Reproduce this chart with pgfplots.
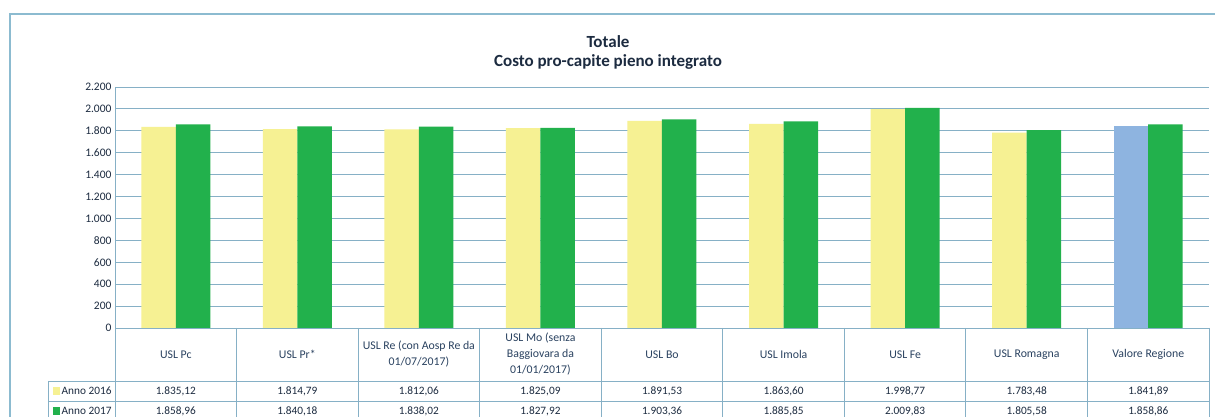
\documentclass[border=0pt]{standalone}
\usepackage{pgfplots}
\pgfplotsset{compat=1.18}
\usepackage{fontspec}
\setmainfont{Carlito}
\definecolor{cy}{HTML}{F6F193}
\definecolor{cg}{HTML}{22B14C}
\definecolor{cb}{HTML}{8EB4E0}
\definecolor{gridc}{HTML}{86B0C6}
\definecolor{framec}{HTML}{8CBBD0}
\definecolor{txt}{HTML}{1C2B40}
\definecolor{htxt}{HTML}{2A4260}
\begin{document}
\begin{tikzpicture}[x=1pt,y=1pt]
\clip (0,0) rectangle (1215,417);
\fill[white] (0,0) rectangle (1215,417);
\draw[framec, line width=1.2pt] (10,-10) -- (10,403) -- (1230,403);
\node[font=\bfseries\fontsize{17}{20}\selectfont, text=txt, align=center] at (608,375.5) {Totale};
\node[font=\bfseries\fontsize{17}{20}\selectfont, text=txt, align=center] at (608,355.5) {Costo pro-capite pieno integrato};
\begin{axis}[at={(115pt,89pt)}, anchor=south west, scale only axis,
  width=1094pt, height=241pt,
  xmin=-0.5, xmax=8.5, ymin=0, ymax=2200,
  ytick={0,200,...,2200}, xtick=\empty,
  ymajorgrids, grid style={gridc, line width=0.9pt},
  axis line style={draw=none}, major tick length=0pt,
  yticklabel style={font=\fontsize{11.5}{13}\selectfont, text=txt},
  /pgf/number format/.cd, use comma, 1000 sep={.}, assume math mode=true]
\addplot[ybar, bar width=34.5pt, bar shift=-17.25pt, fill=cy, draw=none] coordinates {
 (0,1835.12) (1,1814.79) (2,1812.06) (3,1825.09) (4,1891.53) (5,1863.60) (6,1998.77) (7,1783.48)};
\addplot[ybar, bar width=34.5pt, bar shift=-17.25pt, fill=cb, draw=none] coordinates {(8,1841.89)};
\addplot[ybar, bar width=34.5pt, bar shift=17.25pt, fill=cg, draw=none] coordinates {
 (0,1858.96) (1,1840.18) (2,1838.02) (3,1827.92) (4,1903.36) (5,1885.85) (6,2009.83) (7,1805.58) (8,1858.86)};
\end{axis}
% table grid
\draw[gridc, line width=0.9pt] (115,330) -- (115,-10);
\foreach \i in {1,...,9} {
  \pgfmathsetmacro{\xx}{115+121.56*\i}
  \draw[gridc, line width=0.9pt] (\xx,89) -- (\xx,-10);
}
\draw[gridc, line width=0.9pt] (115,89) -- (1209.04,89);
\draw[gridc, line width=0.9pt] (48,36) -- (1209.04,36);
\draw[gridc, line width=0.9pt] (48,16) -- (1209.04,16);
\draw[gridc, line width=0.9pt] (48,-3) -- (1209.04,-3);
\draw[gridc, line width=0.9pt] (48,36) -- (48,-10);
% headers
\foreach \lab [count=\i from 0] in {{USL Pc},{USL Pr*},{USL Re (con Aosp Re da\\01/07/2017)},{USL Mo (senza\\Baggiovara da\\01/01/2017)},{USL Bo},{USL Imola},{USL Fe},{USL Romagna},{Valore Regione}} {
  \pgfmathsetmacro{\xx}{115+121.56*(\i+0.5)}
  \node[font=\fontsize{11.8}{16}\selectfont, text=htxt, align=center] at (\xx,62.5) {\lab};
}
\foreach \v [count=\i from 0] in {1.835{,}12,1.814{,}79,1.812{,}06,1.825{,}09,1.891{,}53,1.863{,}60,1.998{,}77,1.783{,}48,1.841{,}89} {
  \pgfmathsetmacro{\xx}{115+121.56*(\i+0.5)}
  \node[font=\fontsize{11.3}{13}\selectfont, text=txt] at (\xx,26) {\v};
}
\foreach \v [count=\i from 0] in {1.858{,}96,1.840{,}18,1.838{,}02,1.827{,}92,1.903{,}36,1.885{,}85,2.009{,}83,1.805{,}58,1.858{,}86} {
  \pgfmathsetmacro{\xx}{115+121.56*(\i+0.5)}
  \node[font=\fontsize{11.3}{13}\selectfont, text=txt] at (\xx,6) {\v};
}
% legend keys
\fill[cy] (53,22) rectangle (60,30);
\node[font=\fontsize{11.3}{13}\selectfont, text=txt, anchor=west, inner sep=0pt] at (61.5,26) {Anno 2016};
\fill[cg] (53,2) rectangle (60,10);
\node[font=\fontsize{11.3}{13}\selectfont, text=txt, anchor=west, inner sep=0pt] at (61.5,6) {Anno 2017};
\end{tikzpicture}
\end{document}
